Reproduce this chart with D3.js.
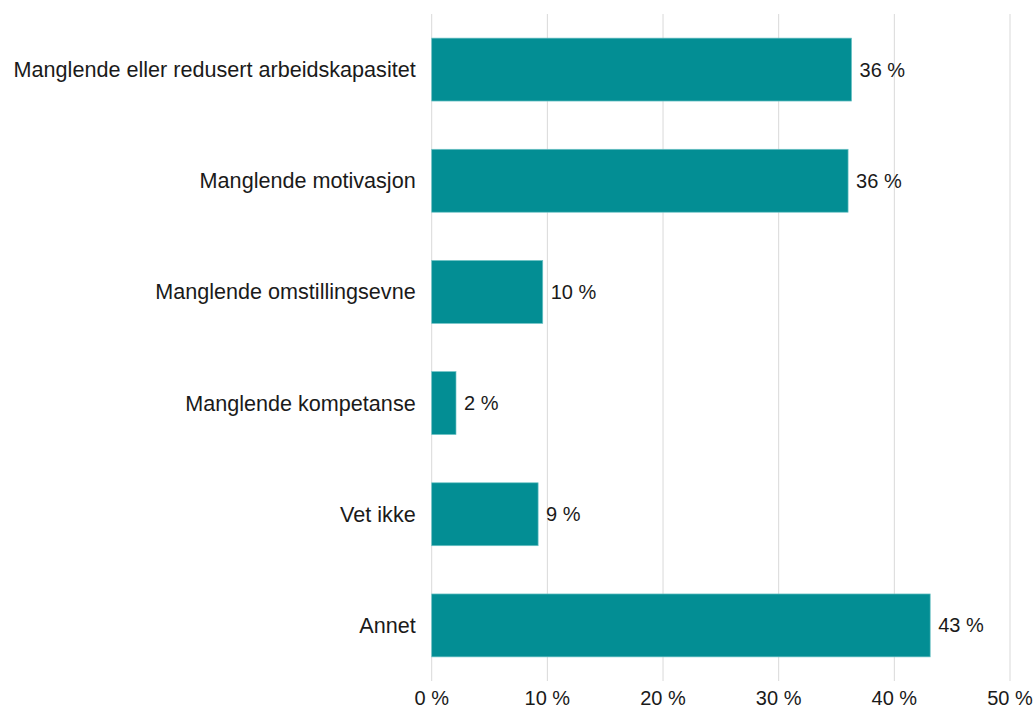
<!DOCTYPE html>
<html>
<head>
<meta charset="utf-8">
<script src="https://cdn.jsdelivr.net/npm/d3@7"></script>
<style>
  body { margin: 0; background: #fff; }
  text { font-family: "Liberation Sans", Arial, sans-serif; fill: #1a1a1a; }
</style>
</head>
<body>
<div id="chart"></div>
<script>
var svgWidth = 1035;
var svgHeight = 708;

// data
var categories = [
    "Manglende eller redusert arbeidskapasitet",
    "Manglende motivasjon",
    "Manglende omstillingsevne",
    "Manglende kompetanse",
    "Vet ikke",
    "Annet"
];
var values = [36.3, 36.0, 9.6, 2.1, 9.2, 43.1];
var valueLabels = ["36 %", "36 %", "10 %", "2 %", "9 %", "43 %"];
var xTicks = [0, 10, 20, 30, 40, 50];

var margin = { top: 14, right: 25, bottom: 27, left: 431.7 };
var width = svgWidth - margin.left - margin.right;
var height = svgHeight - margin.top - margin.bottom;

var svg = d3.select("#chart")
    .append("svg")
    .attr("width", svgWidth)
    .attr("height", svgHeight);

var chartGroup = svg.append("g")
    .attr("transform", `translate(${margin.left}, ${margin.top})`);

var x = d3.scaleLinear()
    .domain([0, 50])
    .range([0, 578.3]);

var y = d3.scaleBand()
    .domain(categories)
    .range([0, height])
    .paddingInner(0.434)
    .paddingOuter(0.217);

// gridlines
chartGroup.selectAll(".grid")
    .data(xTicks)
    .enter()
    .append("line")
    .attr("x1", d => x(d))
    .attr("x2", d => x(d))
    .attr("y1", 0)
    .attr("y2", height)
    .attr("stroke", "#d9d9d9")
    .attr("stroke-width", 1);

// bars
var data = categories.map((c, i) => ({ cat: c, value: values[i], label: valueLabels[i] }));

chartGroup.selectAll(".bar")
    .data(data)
    .enter()
    .append("rect")
    .attr("x", 0)
    .attr("y", d => y(d.cat))
    .attr("width", d => x(d.value))
    .attr("height", y.bandwidth())
    .attr("fill", "#038e94")
    .attr("stroke", "#6ec3c6")
    .attr("stroke-width", 0.7);

// value labels
chartGroup.selectAll(".val")
    .data(data)
    .enter()
    .append("text")
    .attr("x", d => x(d.value) + 8)
    .attr("y", d => y(d.cat) + y.bandwidth() / 2)
    .attr("dy", "0.35em")
    .style("font-size", "20px")
    .text(d => d.label);

// category labels
chartGroup.selectAll(".cat")
    .data(categories)
    .enter()
    .append("text")
    .attr("x", -16)
    .attr("y", d => y(d) + y.bandwidth() / 2)
    .attr("dy", "0.35em")
    .attr("text-anchor", "end")
    .style("font-size", "21.6px")
    .text(d => d);

// x tick labels
chartGroup.selectAll(".tick")
    .data(xTicks)
    .enter()
    .append("text")
    .attr("x", d => x(d))
    .attr("y", height + 24)
    .attr("text-anchor", "middle")
    .style("font-size", "20px")
    .text(d => d + " %");
</script>
</body>
</html>
